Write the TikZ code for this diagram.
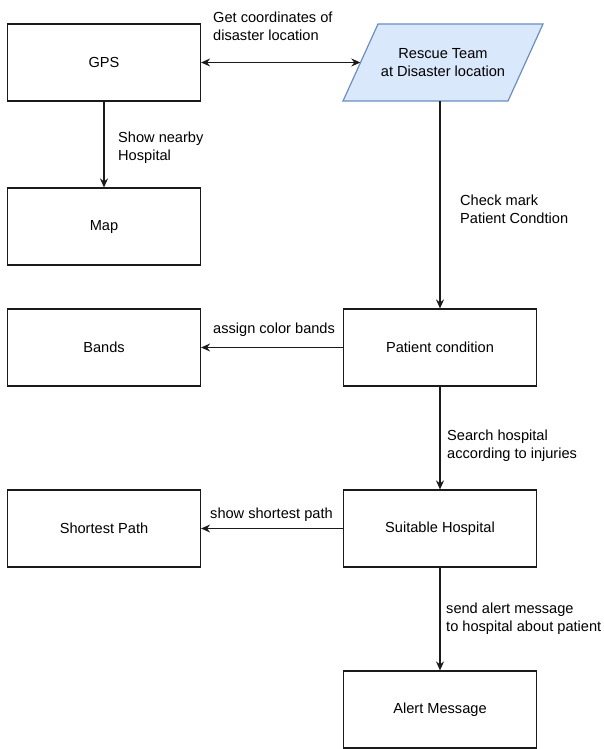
\documentclass[tikz,border=0pt]{standalone}
\usepackage{fontspec}
\setmainfont{Liberation Sans}
\usetikzlibrary{arrows.meta,calc}
\definecolor{pfill}{HTML}{DAE8FC}
\definecolor{pline}{HTML}{6C8EBF}
\definecolor{edge}{HTML}{1A1A1A}
\begin{document}
\begin{tikzpicture}[x=1pt,y=-1pt,
  font=\fontsize{14.6}{18}\selectfont,
  box/.style={draw=edge,line width=1.2pt,minimum width=193pt,minimum height=77pt,inner sep=0pt},
  tip/.style={Stealth[length=9pt,width=8pt,inset=3pt]},
  conn/.style={draw=edge,line width=1.2pt,-{Stealth[length=9pt,width=8pt,inset=3pt]}},
  lbl/.style={align=left,inner sep=0pt,anchor=west}]
\useasboundingbox (0,0) rectangle (603,749);
% parallelogram drawn directly
\filldraw[fill=pfill,draw=pline,line width=1.2pt,line join=miter] (378,24) -- (543,24) -- (508,101) -- (343,101) -- cycle;
\node[inner sep=0pt,minimum width=165pt,minimum height=77pt,align=center] (rescue) at (443,62.5) {Rescue Team\\at Disaster location};
\node[box] (gps) at (104,62.5) {GPS};
\node[box] (map) at (104,226.5) {Map};
\node[box] (bands) at (104,347.5) {Bands};
\node[box] (patient) at (440,347.5) {Patient condition};
\node[box] (short) at (104,528.5) {Shortest Path};
\node[box] (suit) at (440,528.5) {Suitable Hospital};
\node[box] (alert) at (440,709.5) {Alert Message};
% connectors
\draw[conn,{Stealth[length=9pt,width=8pt,inset=3pt]}-{Stealth[length=9pt,width=8pt,inset=3pt]}] (gps.east) -- (rescue.west);
\draw[conn] (gps.south) -- (map.north);
\draw[conn] (rescue.south -| patient.north) -- (patient.north);
\draw[conn] (patient.west) -- (bands.east);
\draw[conn] (patient.south) -- (suit.north);
\draw[conn] (suit.west) -- (short.east);
\draw[conn] (suit.south) -- (alert.north);
% labels
\node[lbl] (l1) at (213,26) {Get coordinates of\\disaster location};
\node[lbl] (l2) at (118,148) {Show nearby\\Hospital};
\node[lbl] (l3) at (460,209) {Check mark\\Patient Condtion};
\node[lbl] (l4) at (213,330) {assign color bands};
\node[lbl] (l5) at (447,446) {Search hospital\\according to injuries};
\node[lbl] (l6) at (210,515) {show shortest path};
\node[lbl] (l7) at (446,619) {send alert message\\to hospital about patient};
\end{tikzpicture}
\end{document}
